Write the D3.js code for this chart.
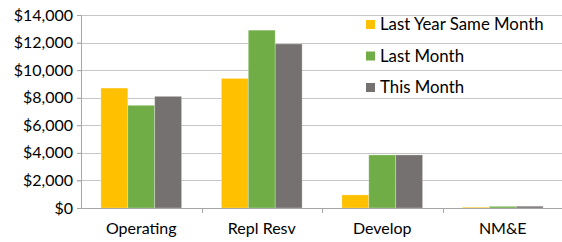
<!DOCTYPE html>
<html>
<head>
<meta charset="utf-8">
<script src="https://cdn.jsdelivr.net/npm/d3@7"></script>
<style>
  body { margin: 0; background: #fff; }
  svg text { font-family: Lato, "Open Sans", sans-serif; fill: #000; }
</style>
</head>
<body>
<svg id="chart" width="562" height="242"></svg>
<script>
// chart values
var categories = ["Operating", "Repl Resv", "Develop", "NM&E"];
var seriesNames = ["Last Year Same Month", "Last Month", "This Month"];
var lastYearSameMonth = [8700, 9400, 950, 60];
var lastMonth = [7450, 12900, 3850, 120];
var thisMonth = [8100, 11900, 3850, 130];
var yTicks = [0, 2000, 4000, 6000, 8000, 10000, 12000, 14000];

var colours = ["#FFC000", "#70AD47", "#767171"];
var series = [lastYearSameMonth, lastMonth, thisMonth];

var margin = {top: 15, right: 0, bottom: 34, left: 81},
    width = 563 - margin.left - margin.right,
    height = 208 - margin.top;

var svg = d3.select("#chart");
var g = svg.append("g")
  .attr("transform", "translate(" + margin.left + "," + margin.top + ")");

var x = d3.scaleBand()
  .domain(categories)
  .range([0, width])
  .paddingInner(0)
  .paddingOuter(0);

var xs = d3.scaleBand()
  .domain(seriesNames)
  .range([x.bandwidth() * 0.165, x.bandwidth() * 0.835]);

var y = d3.scaleLinear()
  .domain([0, 14000])
  .range([height, 0]);

// gridlines
g.append("g")
  .attr("class", "grid")
  .selectAll("line")
  .data(yTicks.slice(1))
  .enter()
    .append("line")
    .attr("x1", -4)
    .attr("x2", width)
    .attr("y1", function(d) { return Math.round(y(d)) + 0.5; })
    .attr("y2", function(d) { return Math.round(y(d)) + 0.5; })
    .attr("stroke", "#c6c6c6")
    .attr("stroke-width", 1.2);

// bars
categories.forEach(function(c, ci) {
  g.selectAll(".bar" + ci)
    .data(series.map(function(s, si) { return {name: seriesNames[si], v: s[ci], col: colours[si]}; }))
    .enter()
      .append("rect")
      .attr("x", function(d) { return x(c) + xs(d.name); })
      .attr("y", function(d) { return y(d.v); })
      .attr("width", xs.bandwidth())
      .attr("height", function(d) { return height - y(d.v); })
      .attr("fill", function(d) { return d.col; })
      .attr("stroke", "#fff")
      .attr("stroke-opacity", 0.35)
      .attr("stroke-width", 0.8);
});

// y axis
var yAxis = g.append("g")
  .call(d3.axisLeft(y).tickValues(yTicks).tickSize(4).tickPadding(4)
    .tickFormat(function(d) { return "$" + d3.format(",")(d); }));
yAxis.select(".domain").attr("stroke", "#a6a6a6");
yAxis.selectAll(".tick line").attr("stroke", "#a6a6a6");
yAxis.selectAll("text").style("font-size", "16px").attr("fill", "#000");

// x axis
var xAxis = g.append("g")
  .attr("transform", "translate(0," + height + ")")
  .call(d3.axisBottom(x).tickSize(0).tickPadding(15));
xAxis.select(".domain").attr("stroke", "#a6a6a6");
xAxis.selectAll("text").style("font-size", "16px").attr("fill", "#000");

// category separator ticks
g.append("g")
  .selectAll("line")
  .data(categories.slice(1))
  .enter()
    .append("line")
    .attr("x1", function(d) { return Math.round(x(d)) + 0.5; })
    .attr("x2", function(d) { return Math.round(x(d)) + 0.5; })
    .attr("y1", height)
    .attr("y2", height + 5)
    .attr("stroke", "#a6a6a6");

// legend
var legend = svg.append("g")
  .attr("transform", "translate(366,20)");
var li = legend.selectAll(".leg")
  .data(seriesNames)
  .enter()
    .append("g")
    .attr("transform", function(d, i) { return "translate(0," + (i * 31.5) + ")"; });
li.append("rect")
  .attr("width", 9)
  .attr("height", 9)
  .attr("fill", function(d, i) { return colours[i]; });
li.append("text")
  .attr("x", 14)
  .attr("y", 4.5)
  .attr("dy", "0.35em")
  .style("font-size", "16.8px")
  .text(function(d) { return d; });
</script>
</body>
</html>
